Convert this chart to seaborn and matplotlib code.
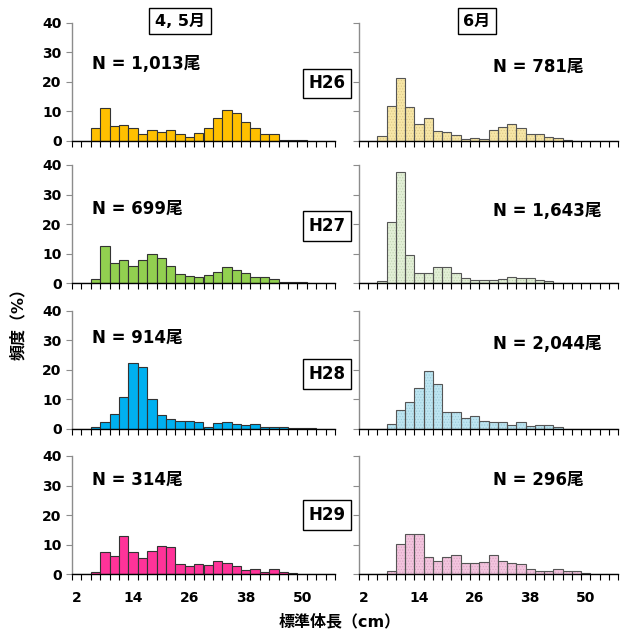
import numpy as np
import pandas as pd
import matplotlib
matplotlib.use("Agg")
import matplotlib.pyplot as plt
import seaborn as sns

sns.set_style("ticks")
plt.rcParams["font.family"] = ["DejaVu Sans", "Noto Sans CJK JP"]
plt.rcParams["hatch.linewidth"] = 0.5
plt.rcParams["text.color"] = "black"
plt.rcParams["xtick.labelcolor"] = "black"
plt.rcParams["ytick.labelcolor"] = "black"

# ---- data -------------------------------------------------------------
length_cm = list(range(2, 58, 2))          # 28 size classes (2 cm)
xtick_labels = [2, 14, 26, 38, 50]
years = ["H26", "H27", "H28", "H29"]
months = ["4, 5月", "6月"]

h26_apr_may = [0, 0, 4.3, 11.0, 5.2, 5.5, 4.3, 2.5, 3.6, 2.9, 3.7, 2.3, 1.2, 2.8,
               4.5, 7.9, 10.6, 9.6, 6.4, 4.5, 2.3, 2.5, 0.4, 0.4, 0.4, 0, 0, 0]
h26_jun = [0, 0, 1.7, 11.7, 21.4, 11.5, 5.6, 7.7, 3.5, 3.2, 2.1, 0.8, 1.1, 0.8,
           3.7, 4.8, 5.7, 4.4, 2.5, 2.5, 1.5, 1.1, 0.3, 0, 0, 0, 0, 0]
h27_apr_may = [0, 0, 1.3, 12.7, 7.0, 8.0, 5.7, 7.9, 9.9, 8.7, 5.9, 3.0, 2.5, 2.0,
               2.7, 3.8, 5.5, 4.4, 3.4, 2.1, 2.1, 1.3, 0.3, 0.3, 0.3, 0, 0, 0]
h27_jun = [0, 0, 0.7, 20.6, 37.7, 9.7, 3.4, 3.4, 5.5, 5.5, 3.4, 1.8, 1.0, 1.1,
           1.1, 1.3, 2.0, 1.7, 1.7, 1.1, 0.7, 0, 0, 0, 0, 0, 0, 0]
h28_apr_may = [0, 0, 0.7, 2.5, 5.2, 10.8, 22.2, 21.0, 10.3, 4.8, 3.3, 2.7, 2.7, 2.5,
               0.8, 1.9, 2.5, 1.8, 1.5, 1.8, 0.7, 0.7, 0.6, 0.4, 0.4, 0.4, 0, 0]
h28_jun = [0, 0, 0, 1.6, 6.4, 9.1, 13.8, 19.7, 15.2, 5.8, 5.6, 3.8, 4.4, 2.7,
           2.4, 2.4, 1.3, 2.4, 1.1, 1.5, 1.3, 0.7, 0, 0, 0, 0, 0, 0]
h29_apr_may = [0, 0, 0.8, 7.4, 6.2, 12.9, 7.4, 5.4, 7.9, 9.7, 9.1, 3.6, 2.7, 3.6,
               3.2, 4.4, 3.7, 2.7, 1.5, 1.7, 0.8, 1.7, 0.9, 0.6, 0, 0, 0, 0]
h29_jun = [0, 0, 0, 1.2, 10.4, 13.7, 13.7, 6.0, 4.6, 5.7, 6.4, 3.7, 3.7, 4.1,
           6.4, 4.4, 3.7, 3.4, 1.7, 1.0, 1.0, 1.7, 1.0, 1.0, 0.6, 0, 0, 0]

n_labels = [["N = 1,013尾", "N = 781尾"],
            ["N = 699尾", "N = 1,643尾"],
            ["N = 914尾", "N = 2,044尾"],
            ["N = 314尾", "N = 296尾"]]

series = [[h26_apr_may, h26_jun], [h27_apr_may, h27_jun],
          [h28_apr_may, h28_jun], [h29_apr_may, h29_jun]]

# ---- style ------------------------------------------------------------
dark_colors = ["#FFC000", "#92D050", "#00B0F0", "#FF3399"]
light_colors = ["#F7E6A6", "#E2EFD6", "#BDE5F1", "#F3C4DE"]
hatch_colors = ["#DCC888", "#C2D5B4", "#9CCAD8", "#D9A6C3"]

W, H = 627, 634
fig = plt.figure(figsize=(W / 100, H / 100), dpi=100)

col_x = [72, 359]
col_w = [263, 259]
row_top = [22.7, 165, 310.7, 456]
ph = 118.3
edges = [float(v) for v in range(1, 58, 2)]

bold = dict(fontweight="bold", color="black")

for r in range(4):
    for c in range(2):
        ax = fig.add_axes([col_x[c] / W, 1 - (row_top[r] + ph) / H,
                           col_w[c] / W, ph / H])
        df = pd.DataFrame({"length": length_cm, "pct": series[r][c]})
        if c == 0:
            sns.histplot(data=df, x="length", weights="pct", bins=edges, ax=ax,
                         facecolor=dark_colors[r], edgecolor="#333333",
                         linewidth=0.8, alpha=1)
        else:
            sns.histplot(data=df, x="length", weights="pct", bins=edges, ax=ax,
                         facecolor=light_colors[r], edgecolor=hatch_colors[r],
                         linewidth=0, hatch="......", alpha=1)
            sns.histplot(data=df, x="length", weights="pct", bins=edges, ax=ax,
                         fill=False, color="#555555", linewidth=0.8)
        ax.set_xlim(1, 57)
        ax.set_ylim(0, 40)
        ax.set_xlabel("")
        ax.set_ylabel("")
        sns.despine(ax=ax)
        ax.spines["left"].set_color("#8c8c8c")
        ax.spines["bottom"].set_color("#000000")
        ax.spines["left"].set_linewidth(1.0)
        ax.spines["bottom"].set_linewidth(1.0)
        ax.set_xticks(edges)
        ax.set_xticklabels([])
        ax.tick_params(axis="x", which="major", length=4, width=0.8,
                       color="#000000", direction="out")
        ax.set_xticks(xtick_labels, minor=True)
        if r == 3:
            ax.set_xticklabels([str(v) for v in xtick_labels], minor=True,
                               fontsize=10, fontweight="bold", color="black")
        else:
            ax.set_xticklabels([], minor=True)
        ax.tick_params(axis="x", which="minor", length=0, pad=12)
        ax.set_yticks([0, 10, 20, 30, 40])
        ax.tick_params(axis="y", length=4, width=0.8, color="#8c8c8c",
                       direction="out")
        if c == 0:
            ax.set_yticklabels(["0", "10", "20", "30", "40"], fontsize=10,
                               fontweight="bold", color="black")
        else:
            ax.set_yticklabels([])
        ax.patch.set_alpha(0)

        # N labels
        if c == 0:
            fig.text(92 / W, 1 - [64.5, 209, 337.5, 480][r] / H, n_labels[r][c],
                     ha="left", va="center", fontsize=12, **bold)
        else:
            fig.text(493 / W, 1 - [66.5, 211, 344, 480][r] / H, n_labels[r][c],
                     ha="left", va="center", fontsize=12, **bold)

    # year box
    fig.text(327 / W, 1 - [83.5, 226, 374, 515][r] / H, years[r],
             ha="center", va="center", fontsize=12, **bold,
             bbox=dict(boxstyle="square,pad=0.35", fc="white", ec="black", lw=1.0))

# month boxes
fig.text(180 / W, 1 - 21 / H, months[0], ha="center", va="center",
         fontsize=11.5, **bold,
         bbox=dict(boxstyle="square,pad=0.35", fc="white", ec="black", lw=1.0))
fig.text(477 / W, 1 - 21 / H, months[1], ha="center", va="center",
         fontsize=11.5, **bold,
         bbox=dict(boxstyle="square,pad=0.35", fc="white", ec="black", lw=1.0))

fig.text(340 / W, 1 - 622 / H, "標準体長（cm）", ha="center", va="center",
         fontsize=11.5, **bold)
fig.text(18 / W, 1 - 320 / H, "頻度（%）", ha="center", va="center",
         rotation=90, fontsize=11.5, **bold)

fig.savefig("out.png", dpi=100, facecolor="white")
